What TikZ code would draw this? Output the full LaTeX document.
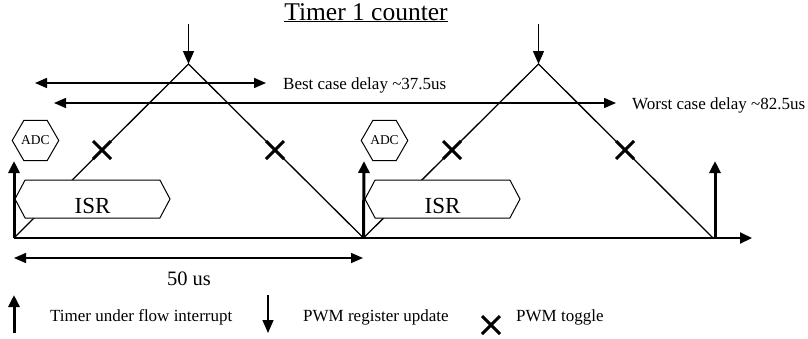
\documentclass[tikz,border=0pt]{standalone}
\usepackage{fontspec}
\setmainfont{Liberation Serif}
\usetikzlibrary{arrows.meta,shapes.geometric,shapes.symbols,shapes.misc}
\begin{document}
\begin{tikzpicture}[x=1pt,y=-1pt,
  thinln/.style={line width=1.3pt},
  axisln/.style={line width=2pt,-{Triangle[length=12pt,width=11pt]}},
  uparr/.style={line width=3pt,-{Triangle[length=12pt,width=11pt]}},
  downarr/.style={line width=1.3pt,-{Triangle[length=13pt,width=11pt]}},
  dimarr/.style={line width=1.5pt,{Triangle[length=12pt,width=10pt]}-{Triangle[length=12pt,width=10pt]}},
  isrbox/.style={signal, signal to=east and west, draw, fill=white, line width=1pt, minimum width=155pt, minimum height=38pt, inner sep=0pt, signal pointer angle=124},
  adc/.style={regular polygon, regular polygon sides=6, draw, fill=white, line width=1pt, minimum size=43pt, inner sep=0pt, font=\fontsize{13.5}{15}\selectfont},
  crossmark/.style={cross out, draw, line width=3pt, minimum size=18pt, inner sep=0pt, outer sep=0pt},
  lbl/.style={font=\fontsize{17}{20}\selectfont, inner sep=0pt},
  big/.style={font=\fontsize{23}{26}\selectfont, inner sep=0pt},
]
\useasboundingbox (0,0) rectangle (808,338);

% title
\node[font=\fontsize{25.5}{29}\selectfont, inner sep=0pt, anchor=base] (title) at (366,20) {\underline{Timer 1 counter}};

% key points
\coordinate (o1) at (14,238);
\coordinate (a1) at (188.5,64);
\coordinate (o2) at (363.5,238);
\coordinate (a2) at (538.5,64);
\coordinate (o3) at (713,238);
\coordinate (axend) at (752,238);

% triangle wave
\draw[thinln] (o1) -- (a1) -- (o2) -- (a2) -- (o3);

% axis
\draw[axisln] (o1) -- (axend);

% PWM register update arrows
\coordinate (d1) at (188.5,24);
\coordinate (d2) at (538.5,24);
\draw[downarr] (d1) -- (a1);
\draw[downarr] (d2) -- (a2);

% delay arrows
\coordinate (b1) at (35,83);
\coordinate (b2) at (266,83);
\draw[dimarr] (b1) -- (b2);
\node[lbl, anchor=base west] (best) at (283,89) {Best case delay \textasciitilde37.5us};
\coordinate (w1) at (54,103);
\coordinate (w2) at (616,103);
\draw[dimarr] (w1) -- (w2);
\node[lbl, anchor=base west] (worst) at (632,109) {Worst case delay \textasciitilde82.5us};

% ISR boxes
\node[isrbox] (isr1) at (92.5,199) {};
\node[big, anchor=base] (isrt1) at (92.5,213) {ISR};
\node[isrbox] (isr2) at (442.5,199) {};
\node[big, anchor=base] (isrt2) at (442.5,213) {ISR};

% ADC hexagons
\node[adc] (adc1) at (35.5,140.5) {ADC};
\node[adc] (adc2) at (384.5,140.5) {ADC};

% PWM toggles
\node[crossmark] (x1) at (102,150) {};
\node[crossmark] (x2) at (275,150) {};
\node[crossmark] (x3) at (452,150) {};
\node[crossmark] (x4) at (625,150) {};

% timer underflow interrupts
\coordinate (u1) at (14,161);
\coordinate (u2) at (364,161);
\coordinate (u3b) at (715,238);
\coordinate (u3) at (715,161);
\draw[uparr] (o1) -- (u1);
\draw[uparr] (o2) -- (u2);
\draw[uparr] (u3b) -- (u3);

% period
\coordinate (m1) at (14,258);
\coordinate (m2) at (363,258);
\draw[dimarr] (m1) -- (m2);
\node[font=\fontsize{20.5}{24}\selectfont, inner sep=0pt, anchor=base] (per) at (189,285) {50 us};

% legend
\coordinate (lu1) at (14,333);
\coordinate (lu2) at (14,295);
\draw[uparr] (lu1) -- (lu2);
\node[lbl, anchor=base west] (leg1) at (50,321) {Timer under flow interrupt};
\coordinate (ld1) at (268,295);
\coordinate (ld2) at (268,333);
\draw[downarr] (ld1) -- (ld2);
\node[lbl, anchor=base west] (leg2) at (303,321) {PWM register update};
\node[crossmark] (lx) at (491,325) {};
\node[lbl, anchor=base west] (leg3) at (516,321) {PWM toggle};
\end{tikzpicture}
\end{document}
